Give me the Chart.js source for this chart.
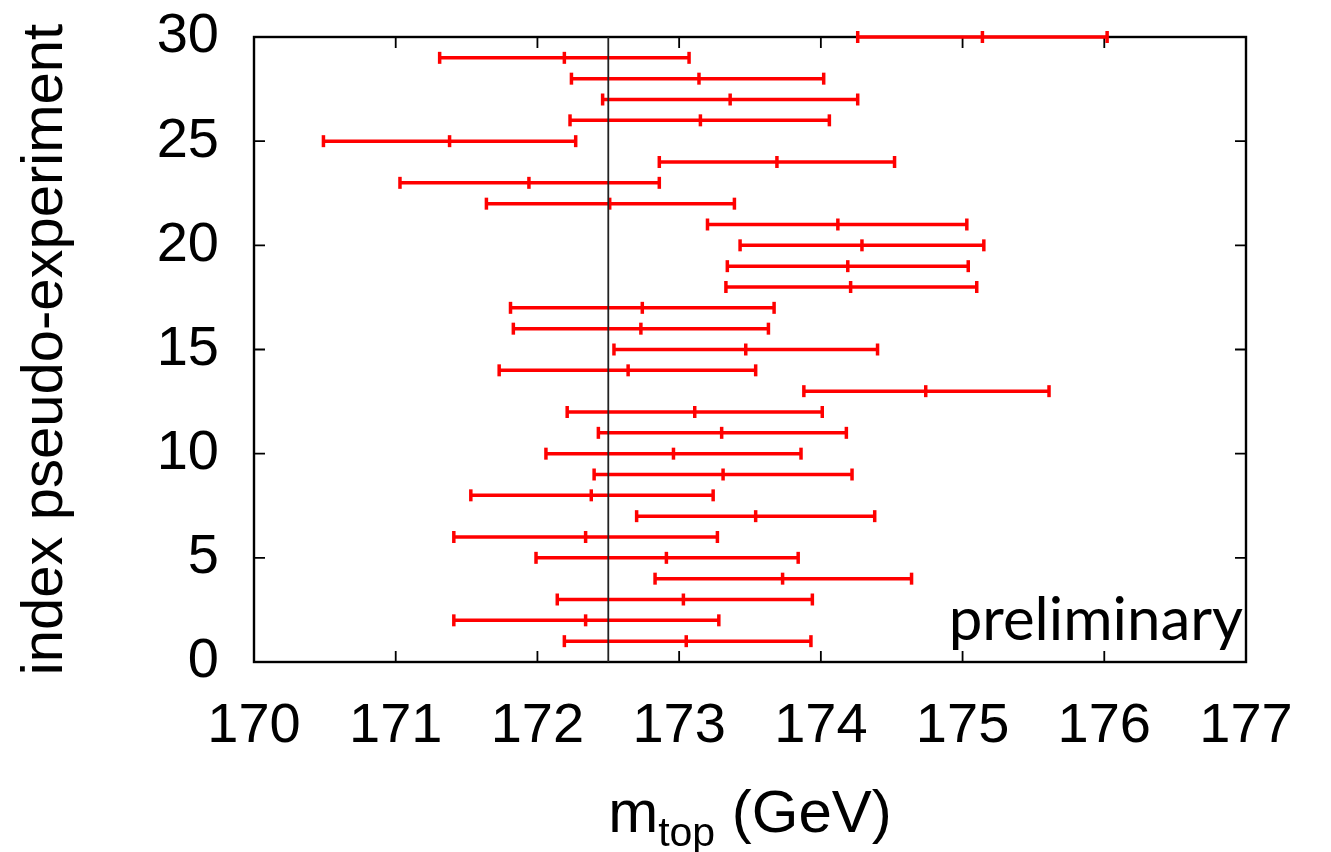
<!DOCTYPE html>
<html>
<head>
<meta charset="utf-8">
<script src="https://cdn.jsdelivr.net/npm/chart.js@4"></script>
<style>
  html, body { margin: 0; padding: 0; background: #fff; }
  canvas { display: block; }
</style>
</head>
<body>
<canvas id="chart" width="1331" height="852"></canvas>
<script>
// pseudo-experiment index, fitted top mass and its error interval
const expIndex = [1, 2, 3, 4, 5, 6, 7, 8, 9, 10, 11, 12, 13, 14, 15, 16, 17, 18, 19, 20, 21, 22, 23, 24, 25, 26, 27, 28, 29, 30];
const massFit = [173.05, 172.34, 173.03, 173.73, 172.91, 172.34, 173.54, 172.38, 173.31, 172.96,
                 173.30, 173.11, 174.74, 172.64, 173.47, 172.73, 172.74, 174.21, 174.19, 174.29,
                 174.12, 172.51, 171.94, 173.69, 171.38, 173.15, 173.36, 173.14, 172.19, 175.14];
const massLow = [172.19, 171.41, 172.14, 172.83, 171.99, 171.41, 172.70, 171.53, 172.40, 172.06,
                 172.43, 172.21, 173.88, 171.73, 172.54, 171.83, 171.81, 173.33, 173.34, 173.43,
                 173.20, 171.64, 171.03, 172.86, 170.49, 172.23, 172.46, 172.24, 171.31, 174.26];
const massHigh = [173.93, 173.28, 173.94, 174.64, 173.84, 173.27, 174.38, 173.24, 174.22, 173.86,
                  174.18, 174.01, 175.61, 173.54, 174.40, 173.63, 173.67, 175.10, 175.04, 175.15,
                  175.03, 173.39, 172.86, 174.52, 172.27, 174.06, 174.26, 174.02, 173.07, 176.02];
const inputMass = 172.5;
const xTicks = [170, 171, 172, 173, 174, 175, 176, 177];
const yTicks = [0, 5, 10, 15, 20, 25, 30];

const FONT = '"Liberation Sans", Helvetica, Arial, sans-serif';
const RED = '#ff0000';

// one small dataset per error bar, caps drawn as rotated 'line' points
const errorBars = expIndex.map((idx, i) => ({
  type: 'line',
  data: [{ x: massLow[i], y: idx }, { x: massHigh[i], y: idx }],
  borderColor: RED,
  borderWidth: 3.5,
  pointStyle: 'line',
  rotation: 90,
  pointRadius: 6,
  pointBorderColor: RED,
  pointBorderWidth: 3.5,
  clip: false,
  order: 2
}));

const centers = {
  type: 'scatter',
  data: expIndex.map((idx, i) => ({ x: massFit[i], y: idx })),
  pointStyle: 'line',
  rotation: 90,
  pointRadius: 6,
  borderColor: RED,
  pointBorderColor: RED,
  pointBorderWidth: 3.5,
  clip: false,
  order: 1
};

const refLine = {
  type: 'line',
  data: [{ x: inputMass, y: 0 }, { x: inputMass, y: 30 }],
  borderColor: '#222',
  borderWidth: 1.8,
  pointRadius: 0,
  order: 0
};

// frame and inward tick marks, like gnuplot
const framePlugin = {
  id: 'frame',
  beforeDatasetsDraw(chart) {
    const { ctx, chartArea: a, scales } = chart;
    ctx.save();
    ctx.strokeStyle = '#000';
    ctx.lineWidth = 1.8;
    const len = 11;
    ctx.beginPath();
    xTicks.forEach(v => {
      const px = scales.x.getPixelForValue(v);
      ctx.moveTo(px, a.bottom); ctx.lineTo(px, a.bottom - len);
      ctx.moveTo(px, a.top); ctx.lineTo(px, a.top + len);
    });
    yTicks.forEach(v => {
      const py = scales.y.getPixelForValue(v);
      ctx.moveTo(a.left, py); ctx.lineTo(a.left + len, py);
      ctx.moveTo(a.right, py); ctx.lineTo(a.right - len, py);
    });
    ctx.stroke();
    ctx.lineWidth = 2.4;
    ctx.strokeRect(a.left, a.top, a.right - a.left, a.bottom - a.top);
    ctx.restore();
  },
  afterDraw(chart) {
    const { ctx, chartArea: a } = chart;
    ctx.save();
    ctx.fillStyle = '#000';

    // x axis title with subscript
    const big = '60px ' + FONT, small = '41px ' + FONT;
    ctx.font = big; const wm = ctx.measureText('m').width;
    const wg = ctx.measureText(' (GeV)').width;
    ctx.font = small; const wt = ctx.measureText('top').width;
    let x = (a.left + a.right) / 2 - (wm + wt + wg) / 2;
    const base = 832;
    ctx.textBaseline = 'alphabetic';
    ctx.textAlign = 'left';
    ctx.font = big; ctx.fillText('m', x, base); x += wm;
    ctx.font = small; ctx.fillText('top', x, base + 14); x += wt;
    ctx.font = big; ctx.fillText(' (GeV)', x, base);

    // label inside the frame
    ctx.font = '60px Lato, "Open Sans", sans-serif';
    ctx.textAlign = 'right';
    ctx.fillText('preliminary', a.right - 3, 640);
    ctx.restore();
  }
};

new Chart(document.getElementById('chart'), {
  type: 'scatter',
  data: { datasets: [refLine, centers, ...errorBars] },
  options: {
    responsive: false,
    devicePixelRatio: 1,
    animation: false,
    layout: { padding: { top: 37, right: 85, bottom: 0, left: 0 } },
    plugins: { legend: { display: false }, tooltip: { enabled: false } },
    scales: {
      x: {
        type: 'linear',
        min: 170,
        max: 177,
        afterBuildTicks: s => { s.ticks = xTicks.map(v => ({ value: v })); },
        afterFit: s => { s.height = 190; },
        grid: { display: false, drawTicks: false },
        border: { display: false },
        ticks: { color: '#000', padding: 31, maxRotation: 0, font: { family: FONT, size: 56 } }
      },
      y: {
        type: 'linear',
        min: 0,
        max: 30,
        afterBuildTicks: s => { s.ticks = yTicks.map(v => ({ value: v })); },
        afterFit: s => { s.width = 254; },
        grid: { display: false, drawTicks: false },
        border: { display: false },
        // tiny lineHeight keeps the label box from pushing the plot area down
        ticks: { color: '#000', padding: 35, autoSkip: false, font: { family: FONT, size: 56, lineHeight: 0.01 } },
        title: {
          display: true,
          text: 'index pseudo-experiment',
          color: '#000',
          padding: { top: 11, bottom: 0 },
          font: { family: FONT, size: 58 }
        }
      }
    }
  },
  plugins: [framePlugin]
});
</script>
</body>
</html>
